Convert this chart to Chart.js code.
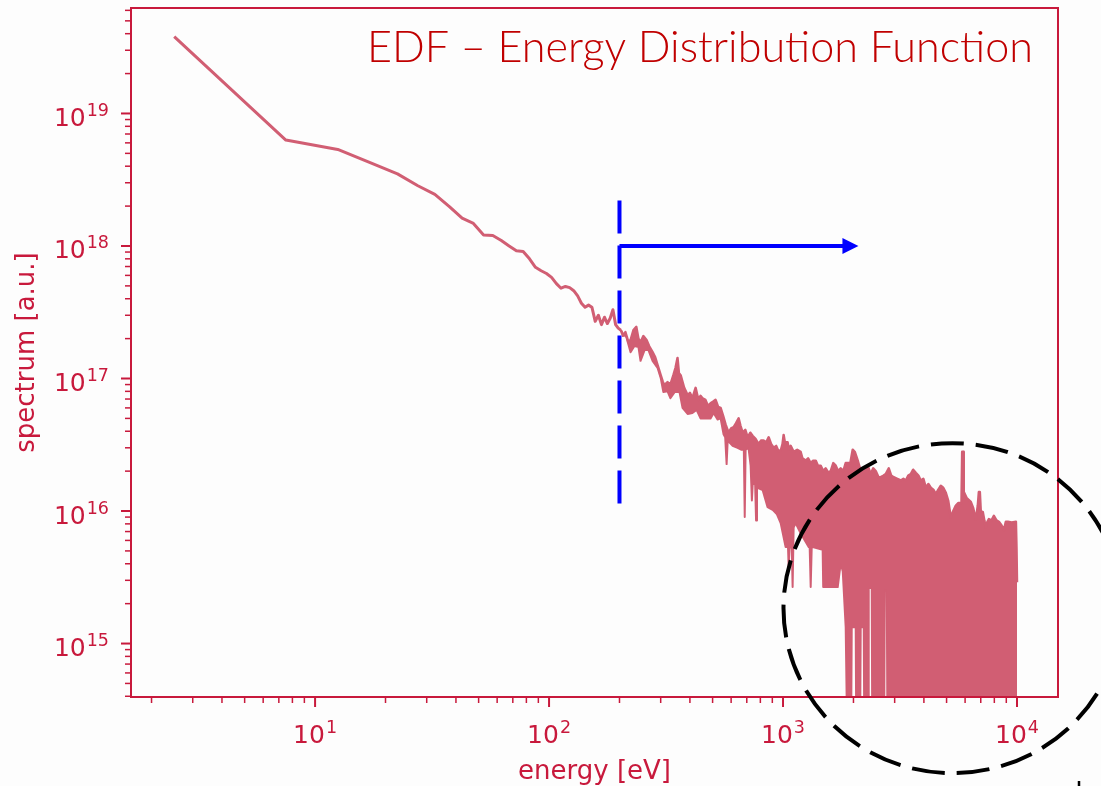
<!DOCTYPE html>
<html>
<head>
<meta charset="utf-8">
<title>EDF</title>
<script src="https://cdn.jsdelivr.net/npm/chart.js@4.4.1/dist/chart.umd.min.js"></script>
<style>
  html, body { margin: 0; padding: 0; background: #fdfdfd; }
  canvas { display: block; }
</style>
</head>
<body>
<canvas id="edf" width="1101" height="786"></canvas>
<script>
// spectrum below ~200 eV: one clean trace, 5 eV bins
const energyLow = [2.5, 7.5, 12.5, 17.5, 22.5, 27.5, 32.5, 37.5, 42.5, 47.5,
  52.5, 57.5, 62.5, 67.5, 72.5, 77.5, 82.5, 87.5, 92.5, 97.5,
  102.5, 107.5, 112.5, 117.5, 122.5, 127.5, 132.5, 137.5, 142.5, 147.5,
  152.5, 157.5, 162.5, 167.5, 172.5, 177.5, 182.5, 187.5, 192.5, 197.5, 202.5];
const spectrumLow = [3.8e19, 6.3e18, 5.35e18, 4.2e18, 3.5e18, 2.85e18, 2.45e18, 1.98e18, 1.62e18, 1.48e18,
  1.21e18, 1.2e18, 1.1e18, 1.0e18, 9.2e17, 9.1e17, 8.0e17, 6.9e17, 6.5e17, 6.2e17,
  5.8e17, 5.2e17, 4.8e17, 4.95e17, 4.85e17, 4.6e17, 4.2e17, 3.7e17, 3.45e17, 3.58e17,
  3.45e17, 2.7e17, 3.0e17, 2.55e17, 2.9e17, 2.6e17, 2.85e17, 3.3e17, 2.55e17, 2.4e17, 2.32e17];

// noisy tail above 200 eV: upper edge of the trace
const tailTopEnergy = [202.5, 207, 212, 218, 223, 229.5, 236, 241, 246, 253, 261, 268, 277, 284, 291, 300,
  306, 311, 321, 330, 340, 347, 354, 359, 365, 378, 391, 400, 410, 423, 430, 435, 444, 453, 466,
  478, 490, 503, 515, 528, 541, 555, 568, 585, 600, 615, 630, 646, 658, 672, 690, 706, 725, 741,
  763, 786, 805, 826, 848, 868, 890, 912, 935, 958, 980, 995, 1006, 1018, 1046, 1060, 1078, 1110,
  1150, 1189, 1210, 1250, 1280, 1313, 1345, 1379, 1410, 1449, 1485, 1522, 1560, 1599, 1640, 1680,
  1720, 1764, 1810, 1853, 1940, 1985, 2025, 2086, 2148, 2220, 2301, 2370, 2430, 2490, 2560, 2616,
  2690, 2748, 2831, 2900, 2973, 3080, 3186, 3270, 3347, 3430, 3516, 3600, 3694, 3790, 3880, 3980,
  4076, 4180, 4282, 4390, 4498, 4610, 4725, 4840, 4964, 5080, 5214, 5340, 5478, 5620, 5790, 5830,
  5880, 5920, 6100, 6348, 6500, 6669, 6800, 6870, 6937, 7000, 7145, 7250, 7360, 7470, 7582, 7780,
  7965, 8170, 8367, 8580, 8789, 8960, 9142, 9500, 9893, 9950, 10000];
const tailTopValue = [2.32e17, 2.1e17, 2.24e17, 1.9e17, 1.95e17, 2.32e17, 2.45e17, 2.0e17, 1.88e17, 2.09e17, 1.95e17, 1.75e17, 1.58e17, 1.45e17, 1.26e17, 1.06e17,
  9.5e16, 8.9e16, 9.4e16, 9.0e16, 1.06e17, 1.2e17, 1.43e17, 1.1e17, 1.06e17, 8.5e16, 7.5e16, 7.8e16, 7.1e16, 8.5e16, 7.5e16, 6.9e16, 7.4e16, 7.1e16, 6.9e16,
  6.2e16, 6.5e16, 6.7e16, 6.9e16, 6.1e16, 6.0e16, 5.2e16, 4.5e16, 3.9e16, 4.2e16, 4.3e16, 4.6e16, 5.0e16, 4.4e16, 3.9e16, 4.1e16, 3.6e16, 3.9e16, 3.7e16,
  3.5e16, 3.2e16, 3.4e16, 3.4e16, 3.3e16, 3.6e16, 3.2e16, 3.0e16, 3.1e16, 2.8e16, 2.9e16, 3.2e16, 3.75e16, 3.3e16, 3.3e16, 2.9e16, 3.1e16, 2.8e16,
  2.9e16, 2.8e16, 2.5e16, 2.4e16, 2.5e16, 2.3e16, 2.4e16, 2.4e16, 2.2e16, 2.2e16, 2.0e16, 2.1e16, 1.95e16, 2.0e16, 2.3e16, 2.2e16,
  2.0e16, 2.1e16, 2.0e16, 2.3e16, 2.3e16, 2.9e16, 2.8e16, 2.4e16, 2.0e16, 2.1e16, 2.2e16, 1.9e16, 2.1e16, 2.0e16, 1.8e16, 1.8e16,
  1.85e16, 1.9e16, 2.1e16, 1.85e16, 1.8e16, 1.75e16, 1.7e16, 1.75e16, 1.7e16, 1.85e16, 1.9e16, 2.05e16, 1.94e16, 1.85e16, 1.7e16, 1.75e16,
  1.5e16, 1.6e16, 1.5e16, 1.45e16, 1.34e16, 1.45e16, 1.55e16, 1.5e16, 1.37e16, 1.2e16, 8.9e15, 1.0e16, 1.1e16, 1.15e16, 1.15e16, 2.8e16,
  2.8e16, 1.4e16, 1.25e16, 1.17e16, 1.05e16, 8.6e15, 1.1e16, 1.39e16, 1.39e16, 1.0e16, 9.8e15, 8.5e15, 7.5e15, 8.3e15, 8.7e15, 8.5e15,
  9.2e15, 8.5e15, 8.3e15, 7.8e15, 7.2e15, 8.3e15, 8.3e15, 8.2e15, 8.3e15, 5.3e15, 2.9e15];

// noisy tail: lower edge of the trace (1e14 = dropped below the plotted range)
const tailLowEnergy = [202.5, 208, 214, 223, 231.7, 241, 246, 256, 266, 277, 291, 300, 308, 321, 330, 344,
  361, 372, 391, 410, 427, 444, 466, 490, 505, 525, 541, 557, 566, 574, 580, 609, 639, 665, 680,
  686, 692, 712, 727, 736, 742, 760, 767, 774, 818, 859, 903, 940, 977, 1026, 1050, 1057, 1067,
  1090, 1099, 1110, 1132, 1189, 1287, 1300, 1313, 1326, 1339, 1477, 1485, 1713, 1764, 1800, 1853,
  1890, 1950, 1966, 2045, 2060, 2130, 2148, 2213, 2230, 2310, 2324, 2394, 2410, 2700, 2722, 2776,
  2800, 10000];
const tailLowValue = [2.32e17, 2.15e17, 2.06e17, 1.58e17, 1.76e17, 1.73e17, 1.36e17, 1.64e17, 1.64e17, 1.36e17, 1.2e17, 1.01e17, 7.9e16, 8.0e16, 7.1e16, 7.9e16,
  7.9e16, 6.0e16, 5.4e16, 5.5e16, 5.8e16, 5.0e16, 5.0e16, 5.0e16, 5.5e16, 4.9e16, 5.0e16, 3.8e16, 3.6e16, 2.26e16, 3.4e16, 3.1e16, 3.0e16, 2.9e16, 2.9e16,
  9.0e15, 2.9e16, 3.0e16, 2.2e16, 1.2e16, 1.6e16, 1.6e16, 8.5e15, 1.5e16, 1.44e16, 1.07e16, 1.02e16, 9.5e15, 8.1e15, 5.35e15, 5.4e15, 3.78e15, 5.3e15,
  5.3e15, 2.67e15, 7.5e15, 8.1e15, 6.8e15, 5.35e15, 5.3e15, 2.67e15, 5.3e15, 5.35e15, 5.1e15, 2.67e15, 2.67e15, 4.05e15, 3.5e15, 1.33e15,
  1e14, 1e14, 1.33e15, 1.33e15, 1e14, 1e14, 1.33e15, 1.33e15, 1e14, 1e14, 2.62e15, 2.62e15, 1e14, 1e14, 2.55e15, 2.55e15,
  1e14, 1e14];

// axis decades that carry a label
const xMajorExp = [1, 2, 3, 4];
const yMajorExp = [15, 16, 17, 18, 19];

// overlay: cut energy, arrow level/end, region of interest
const cutEnergy = 200;
const cutTop = 2.2e18;
const cutBottom = 1.07e16;
const arrowLevel = 1e18;
const arrowEnd = 2100;
const roiEnergy = 5300;
const roiValue = 1.85e15;

const RED = '#c8193c';
const TRACE = '#d15e73';
const TITLE = 'EDF – Energy Distribution Function';

const pts = (xs, ys) => xs.map((x, i) => ({ x, y: ys[i] }));
const titleFont = { family: 'DejaVu Sans', size: 26 };

// "10" with a raised exponent, the way the decade labels are typeset
function powerLabel(ctx, exp, x, baseline, align) {
  ctx.font = '25px "DejaVu Sans"';
  const wBase = ctx.measureText('10').width;
  ctx.font = '17.5px "DejaVu Sans"';
  const wExp = ctx.measureText(String(exp)).width;
  const total = wBase + wExp + 1;
  const x0 = align === 'right' ? x - total : x - total / 2;
  ctx.textAlign = 'left';
  ctx.textBaseline = 'alphabetic';
  ctx.font = '25px "DejaVu Sans"';
  ctx.fillText('10', x0, baseline);
  ctx.font = '17.5px "DejaVu Sans"';
  ctx.fillText(String(exp), x0 + wBase + 1, baseline - 10);
}

const overlay = {
  id: 'overlay',
  afterDraw(chart) {
    const { ctx, chartArea: a } = chart;
    const xs = chart.scales.x, ys = chart.scales.y;
    ctx.save();

    // spines
    ctx.strokeStyle = RED;
    ctx.lineWidth = 2;
    ctx.strokeRect(a.left, a.top, a.right - a.left, a.bottom - a.top);

    // outward tick marks, major and minor
    const tick = (px, len, horiz) => {
      ctx.beginPath();
      if (horiz) { ctx.moveTo(px, a.bottom); ctx.lineTo(px, a.bottom + len); }
      else { ctx.moveTo(a.left, px); ctx.lineTo(a.left - len, px); }
      ctx.stroke();
    };
    const marks = (scale, horiz, e0, e1) => {
      for (let e = e0; e <= e1; e++) {
        for (let m = 1; m <= 9; m++) {
          const v = m * Math.pow(10, e);
          if (v < scale.min || v > scale.max) continue;
          ctx.lineWidth = m === 1 ? 2 : 1.5;
          tick(scale.getPixelForValue(v), m === 1 ? 10 : 6, horiz);
        }
      }
    };
    marks(xs, true, 0, 4);
    marks(ys, false, 14, 19);

    // decade labels
    ctx.fillStyle = RED;
    xMajorExp.forEach(e => powerLabel(ctx, e, xs.getPixelForValue(Math.pow(10, e)), a.bottom + 46, 'center'));
    yMajorExp.forEach(e => powerLabel(ctx, e, a.left - 22, ys.getPixelForValue(Math.pow(10, e)) + 12.5, 'right'));

    // blue cut marker and arrow
    const cx = xs.getPixelForValue(cutEnergy);
    ctx.strokeStyle = '#0000ff';
    ctx.fillStyle = '#0000ff';
    ctx.lineWidth = 4;
    ctx.setLineDash([33, 12]);
    ctx.beginPath();
    ctx.moveTo(cx, ys.getPixelForValue(cutTop));
    ctx.lineTo(cx, ys.getPixelForValue(cutBottom));
    ctx.stroke();
    ctx.setLineDash([]);
    const ay = ys.getPixelForValue(arrowLevel);
    const ax = xs.getPixelForValue(arrowEnd);
    ctx.beginPath();
    ctx.moveTo(cx, ay);
    ctx.lineTo(ax - 12, ay);
    ctx.stroke();
    ctx.beginPath();
    ctx.moveTo(ax, ay);
    ctx.lineTo(ax - 16, ay - 8);
    ctx.lineTo(ax - 16, ay + 8);
    ctx.closePath();
    ctx.fill();

    // dashed ring around the high-energy tail
    ctx.strokeStyle = '#000';
    ctx.lineWidth = 4;
    ctx.setLineDash([33, 12]);
    ctx.beginPath();
    ctx.ellipse(xs.getPixelForValue(roiEnergy), ys.getPixelForValue(roiValue), 169, 165, 0, 0, Math.PI * 2);
    ctx.stroke();
    ctx.setLineDash([]);
    ctx.lineWidth = 2.5;
    ctx.beginPath();
    ctx.moveTo(1079, 781);
    ctx.lineTo(1079, 786);
    ctx.stroke();

    // slide title inside the axes
    ctx.font = '300 44px Lato';
    const w = ctx.measureText(TITLE).width;
    ctx.translate(a.right - 25, a.top + 54);
    ctx.scale(666 / w, 1);
    ctx.textAlign = 'right';
    ctx.textBaseline = 'alphabetic';
    ctx.fillStyle = '#c00000';
    ctx.fillText(TITLE, 0, 0);
    ctx.restore();
  }
};

const flatFit = size => s => {
  if (s.isHorizontal()) s.height = size; else s.width = size;
  s.paddingTop = 0; s.paddingBottom = 0; s.paddingLeft = 0; s.paddingRight = 0;
};

new Chart(document.getElementById('edf'), {
  type: 'line',
  data: {
    datasets: [
      { data: pts(energyLow, spectrumLow), borderColor: TRACE, borderWidth: 3, pointRadius: 0, fill: false },
      { data: pts(tailTopEnergy, tailTopValue), borderColor: TRACE, backgroundColor: TRACE, borderWidth: 2.5, pointRadius: 0, fill: '+1' },
      { data: pts(tailLowEnergy, tailLowValue), borderColor: TRACE, borderWidth: 2, pointRadius: 0, fill: false }
    ]
  },
  options: {
    responsive: false,
    animation: false,
    events: [],
    layout: { padding: { left: 0, right: 43, top: 8, bottom: 0 } },
    elements: { line: { tension: 0, borderJoinStyle: 'round' } },
    plugins: { legend: { display: false }, tooltip: { enabled: false } },
    scales: {
      x: {
        type: 'logarithmic',
        min: 1.634,
        max: 14970,
        grid: { display: false, drawTicks: false, tickLength: 0 },
        border: { display: false },
        afterBuildTicks: s => { s.ticks = xMajorExp.map(e => ({ value: Math.pow(10, e), major: true })); },
        afterFit: flatFit(89),
        ticks: { display: false },
        title: { display: true, text: 'energy [eV]', color: RED, font: titleFont, padding: { top: 0, bottom: -2 } }
      },
      y: {
        type: 'logarithmic',
        min: 3.95e14,
        max: 6.25e19,
        grid: { display: false, drawTicks: false, tickLength: 0 },
        border: { display: false },
        afterBuildTicks: s => { s.ticks = yMajorExp.map(e => ({ value: Math.pow(10, e), major: true })); },
        afterFit: flatFit(131),
        ticks: { display: false },
        title: { display: true, text: 'spectrum [a.u.]', color: RED, font: titleFont, padding: { top: 12, bottom: 0 } }
      }
    }
  },
  plugins: [overlay]
});
</script>
</body>
</html>
